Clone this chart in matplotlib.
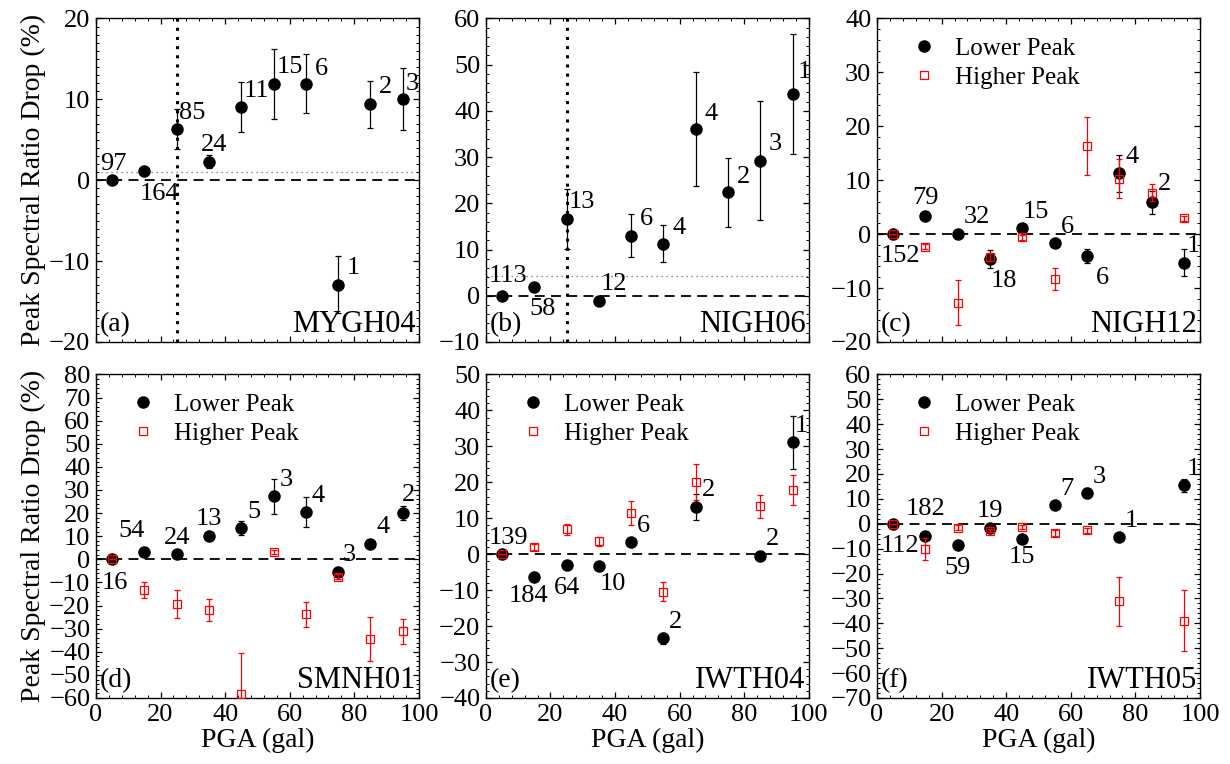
import numpy as np
import matplotlib
matplotlib.use('Agg')
from matplotlib import pyplot as plt
from matplotlib.lines import Line2D
from matplotlib.ticker import MultipleLocator, AutoMinorLocator

plt.rcParams['font.family'] = ['Liberation Serif', 'DejaVu Serif']
plt.rcParams['axes.unicode_minus'] = True

nan = np.nan

# PGA bin centres (gal)
pga = [5, 15, 25, 35, 45, 55, 65, 75, 85, 95]

# (a) MYGH04
a_low = [0, 1.15, 6.3, 2.3, 9.0, 11.9, 11.9, -12.9, 9.4, 10.0]
a_low_err = [0, 0, 2.5, 0.8, 3.1, 4.3, 3.65, 3.5, 2.9, 3.85]
a_n = ['97', '164', '85', '24', '11', '15', '6', '1', '2', '3']

# (b) NIGH06
b_low = [0, 1.95, 16.6, -1.15, 13.0, 11.3, 36.1, 22.4, 29.2, 43.7]
b_low_err = [0, 0, 6.5, 0, 4.6, 4.0, 12.4, 7.5, 12.9, 13.0]
b_n = ['113', '58', '13', '12', '6', '4', '4', '2', '3', '1']

# (c) NIGH12
c_low = [0, 3.35, 0, -4.6, 1.1, -1.7, -4.0, 11.25, 5.9, -5.3]
c_low_err = [0, 0, 0, 1.7, 0, 0, 1.3, 3.5, 2.1, 2.55]
c_high = [0, -2.35, -12.7, -4.2, -0.6, -8.4, 16.4, 10.3, 7.7, 2.9]
c_high_err = [0, 0.5, 4.1, 0.7, 0.4, 2.05, 5.35, 3.6, 1.6, 0.5]
c_n = ['152', '79', '32', '18', '15', '6', '6', '4', '2', '1']

# (d) SMNH01
d_low = [0, 3.2, 2.2, 10.1, 13.4, 27.3, 20.3, -5.3, 6.6, 20.1]
d_low_err = [0, 0, 0, 1.5, 3.0, 7.5, 6.5, 1.5, 0, 3.0]
d_high = [0, -13.1, -19.4, -21.9, -58.3, 3.2, -23.7, -7.5, -34.5, -31.2]
d_high_err = [0, 3.45, 6.2, 4.85, 17.7, 1.0, 5.45, 1.0, 9.6, 5.25]
d_n = ['16', '54', '24', '13', '5', '3', '4', '3', '4', '2']

# (e) IWTH04
e_low = [0, -6.3, -3.1, -3.25, 3.3, -23.4, 13.2, nan, -0.4, 31.1]
e_low_err = [0, 1.0, 0, 0, 1.0, 1.5, 3.6, nan, 0, 7.3]
e_high = [0, 1.9, 6.9, 3.6, 11.5, -10.4, 20.1, nan, 13.3, 17.8]
e_high_err = [0, 0.8, 1.5, 1.2, 3.4, 2.55, 5.0, nan, 3.1, 4.1]
e_n = ['139', '184', '64', '10', '6', '2', '2', '', '2', '1']

# (f) IWTH05
f_low = [0, -4.8, -8.7, -1.7, -6.0, 7.4, 12.2, -5.4, nan, 15.4]
f_low_err = [0, 0, 0, 0, 0, 0, 2.0, 0, nan, 2.5]
f_high = [0, -10.1, -1.6, -2.8, -1.3, -3.75, -2.7, -31.1, nan, -38.9]
f_high_err = [0, 4.35, 1.0, 0.7, 0.8, 1.3, 1.0, 9.85, nan, 12.35]
f_n = ['112', '182', '59', '19', '15', '7', '3', '1', '', '1']

# label offsets (points) from each marker
a_off = [(1, 12), (11, -17), (11, 12), (4, 12), (11, 12), (12, 12), (11, 11), (11, 12), (11, 12), (7, 11)]
b_off = [(4, 14), (6, -16), (11, 12), (11, 12), (11, 12), (11, 11), (11, 11), (11, 11), (11, 12), (8, 16)]
c_off = [(5, -16), (0, 13), (14, 12), (10, -16), (10, 12), (9, 12), (11, -16), (9, 12), (9, 13), (7, 12)]
d_off = [(2, -17), (-9, 15), (0, 12), (0, 12), (9, 12), (9, 12), (9, 12), (8, 12), (9, 12), (4, 13)]
e_off = [(5, 12), (-4, -14), (0, -16), (10, -13), (9, 12), (9, 12), (9, 12), (0, 0), (9, 12), (6, 12)]
f_off = [(5, -16), (0, 19), (0, -16), (0, 12), (0, -13), (9, 12), (9, 12), (9, 12), (0, 0), (7, 12)]

fig = plt.figure(figsize=(12.3, 7.64), dpi=100)
lefts = [0.078, 0.395, 0.713]
bottoms = [0.5524, 0.0864]
w, h = 0.2626, 0.4235


def draw_panel(ax, low, low_err, names, offs, ylim, tag, station,
               high=None, high_err=None, minor=5):
    ax.axhline(0, color='k', ls=(0, (5.5, 3.5)), lw=1.3, zorder=1)
    ax.errorbar(pga, low, yerr=low_err, fmt='o', color='k', ms=8,
                elinewidth=0.9, capsize=2.5, capthick=0.9, zorder=3)
    if high is not None:
        ax.errorbar(pga, high, yerr=high_err, fmt='s', color='red', mfc='none',
                    mec='red', ms=5.5, mew=0.9, elinewidth=0.9, capsize=2.5,
                    capthick=0.9, zorder=4)
        handles = [Line2D([], [], marker='o', ls='none', color='k', ms=8),
                   Line2D([], [], marker='s', ls='none', mec='red', mfc='none',
                          mew=0.9, ms=5.5)]
        ax.legend(handles, ['Lower Peak', 'Higher Peak'], loc='upper left',
                  bbox_to_anchor=(0.045, 1.01), frameon=False, fontsize=18,
                  handlelength=0.8, handletextpad=0.85, labelspacing=0.25,
                  numpoints=1)
    for x, y, s, (dx, dy) in zip(pga, low, names, offs):
        if s == '' or np.isnan(y):
            continue
        ax.annotate(s, (x, y), xytext=(dx, dy), textcoords='offset points',
                    ha='center', va='center', fontsize=19, zorder=5)
    ax.set_xlim(0, 100)
    ax.set_ylim(*ylim)
    ax.xaxis.set_major_locator(MultipleLocator(20))
    ax.xaxis.set_minor_locator(AutoMinorLocator(5))
    ax.yaxis.set_major_locator(MultipleLocator(10))
    ax.yaxis.set_minor_locator(AutoMinorLocator(minor))
    ax.tick_params(which='both', direction='in', top=True, right=True,
                   labelsize=19, pad=4)
    ax.tick_params(which='major', length=4, width=0.9)
    ax.tick_params(which='minor', length=2, width=0.7)
    for sp in ax.spines.values():
        sp.set_linewidth(1.0)
    ax.text(0.012, 0.015, tag, transform=ax.transAxes, ha='left', va='bottom', fontsize=20)
    ax.text(0.99, 0.01, station, transform=ax.transAxes, ha='right', va='bottom', fontsize=22)


ax_a = fig.add_axes([lefts[0], bottoms[0], w, h])
ax_b = fig.add_axes([lefts[1], bottoms[0], w, h])
ax_c = fig.add_axes([lefts[2], bottoms[0], w, h])
ax_d = fig.add_axes([lefts[0], bottoms[1], w, h])
ax_e = fig.add_axes([lefts[1], bottoms[1], w, h])
ax_f = fig.add_axes([lefts[2], bottoms[1], w, h])

draw_panel(ax_a, a_low, a_low_err, a_n, a_off, (-20, 20), '(a)', 'MYGH04', minor=10)
draw_panel(ax_b, b_low, b_low_err, b_n, b_off, (-10, 60), '(b)', 'NIGH06')
draw_panel(ax_c, c_low, c_low_err, c_n, c_off, (-20, 40), '(c)', 'NIGH12', c_high, c_high_err)
draw_panel(ax_d, d_low, d_low_err, d_n, d_off, (-60, 80), '(d)', 'SMNH01', d_high, d_high_err)
draw_panel(ax_e, e_low, e_low_err, e_n, e_off, (-40, 50), '(e)', 'IWTH04', e_high, e_high_err)
draw_panel(ax_f, f_low, f_low_err, f_n, f_off, (-70, 60), '(f)', 'IWTH05', f_high, f_high_err)

# threshold lines in (a) and (b)
for ax, yth in [(ax_a, 1.0), (ax_b, 4.3)]:
    ax.axvline(25, color='k', ls=(0, (1, 2)), lw=2.2, zorder=2)
    ax.axhline(yth, color='0.4', ls=(0, (1, 3)), lw=0.9, zorder=1)

for ax in [ax_a, ax_b, ax_c]:
    ax.tick_params(labelbottom=False)
for ax in [ax_d, ax_e, ax_f]:
    ax.set_xlabel('PGA (gal)', fontsize=20, labelpad=2)
for ax in [ax_a, ax_d]:
    ax.set_ylabel('Peak Spectral Ratio Drop (%)', fontsize=20, labelpad=2)

fig.savefig('out.png', dpi=100, facecolor='white')
